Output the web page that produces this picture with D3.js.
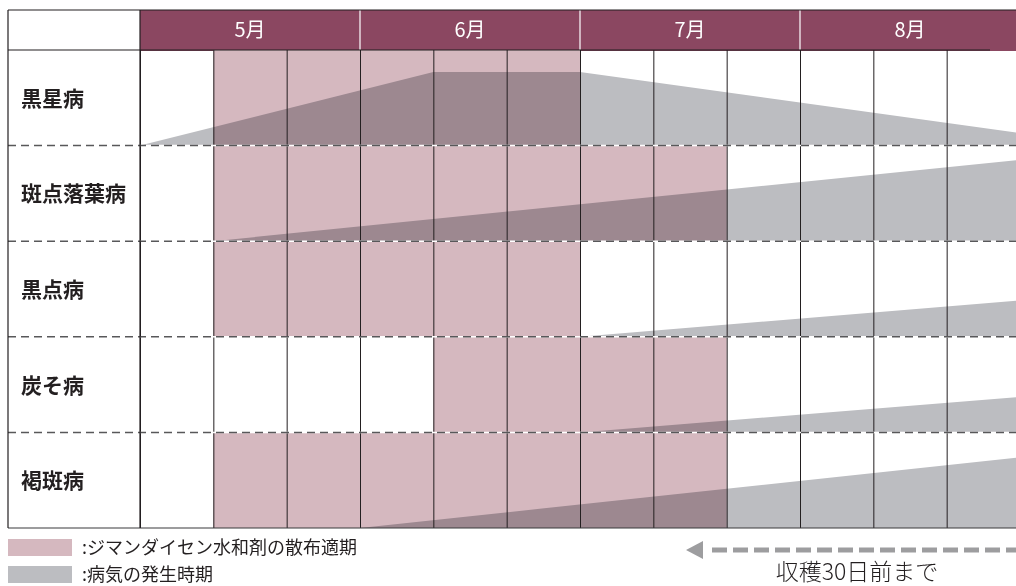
<!DOCTYPE html>
<html>
<head>
<meta charset="utf-8">
<script src="https://cdn.jsdelivr.net/npm/d3@7"></script>
<style>
  html, body { margin: 0; padding: 0; background: #fff; }
  svg { display: block; font-family: "Noto Sans CJK JP", "Noto Sans", sans-serif; }
</style>
</head>
<body>
<svg id="chart" width="1016" height="586"></svg>
<script>
// months across the top, each split into 上旬/中旬/下旬 (decade index 0..12)
const months = ['5月', '6月', '7月', '8月'];
const diseases = ['黒星病', '斑点落葉病', '黒点病', '炭そ病', '褐斑病'];

// spray period (ジマンダイセン水和剤), in decade index
const sprayStart = [1, 1, 1, 4, 1];
const sprayEnd   = [6, 8, 6, 8, 8];

// disease occurrence: [decade index, level 0..1 of row height]
const occKurohoshi = [[0, 0], [4, 0.77], [6, 0.77], [12, 0.13]];
const occHanten    = [[1, 0], [12, 0.85]];
const occKokuten   = [[6, 0], [12, 0.38]];
const occTanso     = [[6, 0], [12, 0.37]];
const occKappan    = [[3, 0], [12, 0.74]];
const occurrence = [occKurohoshi, occHanten, occKokuten, occTanso, occKappan];

const legendLabels = ['ジマンダイセン水和剤の散布適期', '病気の発生時期'];
const noteLabel = '収穫30日前まで';

const C = { maroon: '#8b4761', pink: '#d5b8bf', grey: '#bcbdc1', line: '#231f20', dash: '#58585a' };

const svg = d3.select('#chart');
const left = 8, colX = 140, topY = 10, headH = 40, bottomY = 528, W = 1016;

const x = d3.scaleLinear().domain([0, 12]).range([colX, 1020]);
const row = d3.scaleBand().domain(diseases).range([topY + headH, bottomY]);
const monthX = d3.scaleBand().domain(months).range([x(0), x(12)]);

// header
svg.append('rect').attr('x', colX).attr('y', topY).attr('width', W - colX).attr('height', headH + 1).attr('fill', C.maroon);
svg.selectAll('.msep').data(months.slice(1)).join('line')
  .attr('x1', d => monthX(d)).attr('x2', d => monthX(d))
  .attr('y1', topY).attr('y2', topY + headH)
  .attr('stroke', '#fff').attr('stroke-width', 1.2);
svg.selectAll('.mlab').data(months).join('text')
  .attr('x', d => monthX(d) + monthX.bandwidth() / 2)
  .attr('y', topY + headH / 2 + 7)
  .attr('text-anchor', 'middle').attr('fill', '#fff')
  .style('font-size', '20px')
  .text(d => d);

// spray periods
const body = svg.append('g');
body.selectAll('.spray').data(diseases).join('rect')
  .attr('x', (d, i) => x(sprayStart[i]))
  .attr('width', (d, i) => x(sprayEnd[i]) - x(sprayStart[i]))
  .attr('y', d => row(d)).attr('height', row.bandwidth())
  .attr('fill', C.pink);

// disease occurrence
const area = d3.area()
  .x(p => x(p[0]));
body.selectAll('.occ').data(diseases).join('path')
  .attr('d', (d, i) => {
    const base = row(d) + row.bandwidth();
    return area.y0(base).y1(p => base - p[1] * row.bandwidth())(occurrence[i]);
  })
  .attr('fill', C.grey)
  .style('mix-blend-mode', 'multiply');

// grid: vertical decade lines
svg.selectAll('.vline').data(d3.range(0, 12)).join('line')
  .attr('x1', d => x(d) + 0.5).attr('x2', d => x(d) + 0.5)
  .attr('y1', topY + headH).attr('y2', bottomY)
  .attr('stroke', C.line).attr('stroke-width', 1);

// dashed row separators
const seps = diseases.slice(1).map(d => row(d));
svg.selectAll('.hwhite').data(seps).join('line')
  .attr('x1', left).attr('x2', W).attr('y1', d => d).attr('y2', d => d)
  .attr('stroke', '#fff').attr('stroke-width', 1.5);
svg.selectAll('.hdash').data(seps).join('line')
  .attr('x1', left).attr('x2', W).attr('y1', d => d).attr('y2', d => d)
  .attr('stroke', C.dash).attr('stroke-width', 1.5)
  .attr('stroke-dasharray', '8,5');

// frame
const frame = svg.append('g').attr('stroke', C.line).attr('stroke-width', 1.2);
frame.append('line').attr('x1', left).attr('x2', W).attr('y1', topY).attr('y2', topY);
frame.append('line').attr('x1', left).attr('x2', 990).attr('y1', topY + headH).attr('y2', topY + headH);
frame.append('line').attr('x1', left).attr('x2', W).attr('y1', bottomY).attr('y2', bottomY).attr('stroke', '#3a3a3c');
frame.append('line').attr('x1', left).attr('x2', left).attr('y1', topY).attr('y2', bottomY);
frame.append('line').attr('x1', colX).attr('x2', colX).attr('y1', topY).attr('y2', bottomY);

// row labels
svg.selectAll('.rlab').data(diseases).join('text')
  .attr('x', 21).attr('y', d => row(d) + row.bandwidth() / 2 + 8)
  .attr('fill', '#231f20').style('font-size', '21px').style('font-weight', 700)
  .text(d => d);

// legend
const legend = svg.append('g');
[C.pink, C.grey].forEach((c, i) => {
  legend.append('rect').attr('x', 8).attr('y', 539 + i * 27).attr('width', 64).attr('height', 17).attr('fill', c);
  legend.append('text').attr('x', 82).attr('y', 554 + i * 27)
    .attr('fill', '#231f20').style('font-size', '18px')
    .text(':' + legendLabels[i]);
});

// arrow: 収穫30日前まで
const arrow = svg.append('g');
arrow.append('path').attr('d', 'M686,550 L703,541 L703,559 Z').attr('fill', '#9d9d9f');
arrow.append('line').attr('x1', 712).attr('x2', W).attr('y1', 550).attr('y2', 550)
  .attr('stroke', '#9d9d9f').attr('stroke-width', 5).attr('stroke-dasharray', '15,6');
arrow.append('text').attr('x', 857).attr('y', 580).attr('text-anchor', 'middle')
  .attr('fill', '#231f20').style('font-size', '23px').style('font-weight', 300)
  .text(noteLabel);
</script>
</body>
</html>
